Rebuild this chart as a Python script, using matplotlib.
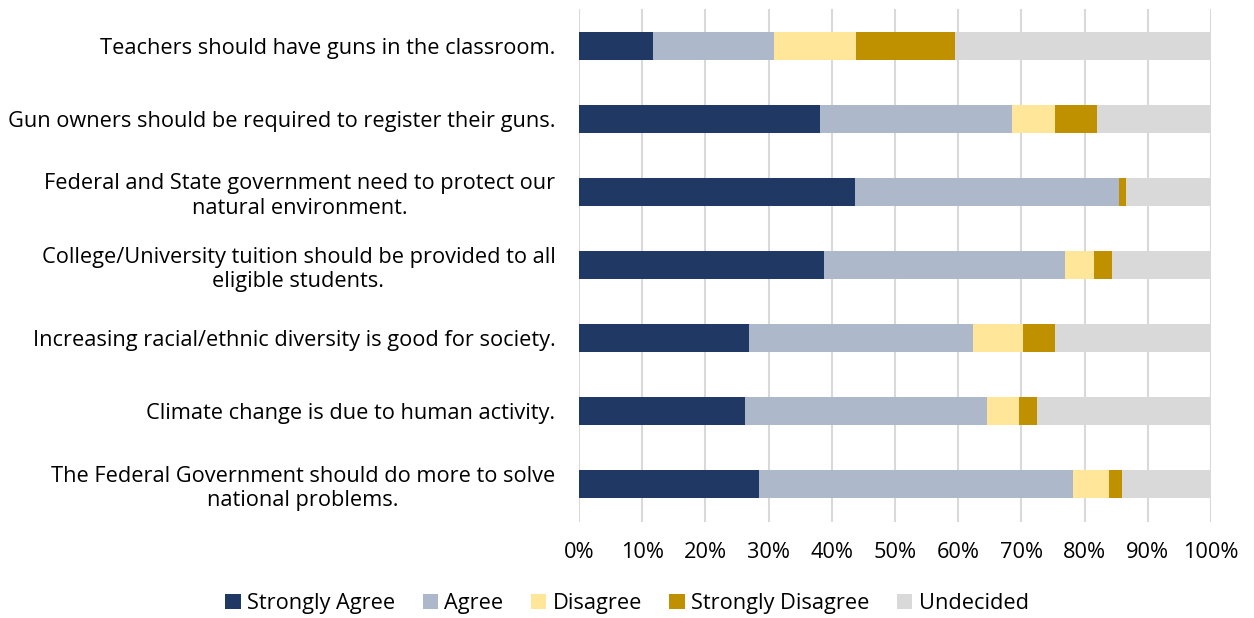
import matplotlib.pyplot as plt
import numpy as np

plt.rcParams['font.family'] = ['Open Sans', 'DejaVu Sans']

# Aussagen (von oben nach unten)
statements = [
    "Teachers should have guns in the classroom.",
    "Gun owners should be required to register their guns.",
    "Federal and State government need to protect our\nnatural environment.",
    "College/University tuition should be provided to all\neligible students.",
    "Increasing racial/ethnic diversity is good for society.",
    "Climate change is due to human activity.",
    "The Federal Government should do more to solve\nnational problems.",
]

# Anteile in Prozent
strongly_agree = [11.7, 38.1, 43.7, 38.7, 26.9, 26.3, 28.5]
agree = [19.1, 30.4, 41.7, 38.2, 35.4, 38.2, 49.6]
disagree = [13.0, 6.8, 0.1, 4.6, 7.9, 5.2, 5.7]
strongly_disagree = [15.7, 6.7, 1.1, 2.8, 5.1, 2.7, 2.1]
undecided = [40.5, 18.0, 13.4, 15.7, 24.7, 27.6, 14.1]

series = [
    ("Strongly Agree", strongly_agree, "#203864"),
    ("Agree", agree, "#ADB9CA"),
    ("Disagree", disagree, "#FFE699"),
    ("Strongly Disagree", strongly_disagree, "#BF9000"),
    ("Undecided", undecided, "#D9D9D9"),
]

fig = plt.figure(figsize=(12.54, 6.18), dpi=100)
ax = fig.add_axes([0.4617, 0.155, 0.504, 0.83])

y = np.arange(len(statements))
left = np.zeros(len(statements))
for name, vals, color in series:
    vals = np.array(vals)
    ax.barh(y, vals, left=left, height=0.39, color=color, label=name, zorder=3)
    left += vals

ax.set_xlim(0, 100)
ax.set_ylim(6.52, -0.5)
ax.set_xticks(np.arange(0, 101, 10))
ax.set_xticklabels([f"{v}%" for v in range(0, 101, 10)])
ax.set_yticks(y)
ax.set_yticklabels(statements, multialignment='center')
ax.tick_params(axis='both', length=0, labelsize=15.7, colors='#000000')
ax.tick_params(axis='y', pad=17)
ax.tick_params(axis='x', pad=14)
ax.grid(axis='x', color='#D9D9D9', linewidth=1.5, zorder=0)
for s in ax.spines.values():
    s.set_visible(False)

leg = ax.legend(loc='center', bbox_to_anchor=(0.5, 0.023), bbox_transform=fig.transFigure,
                ncol=5, frameon=False, fontsize=15.7, handlelength=0.7, handleheight=0.7,
                handletextpad=0.3, columnspacing=1.25)

fig.savefig("out.png", dpi=100)
